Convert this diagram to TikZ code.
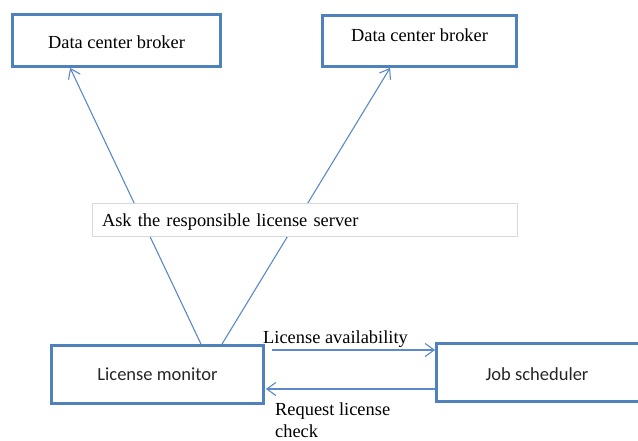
\documentclass[tikz,border=0pt]{standalone}
\usepackage{fontspec}
\setmainfont{Liberation Serif}
\newfontfamily\textserif{Liberation Serif}
\newfontfamily\boxsans{Carlito}
\usetikzlibrary{arrows.meta}
\definecolor{boxblue}{HTML}{4F81BD}
\definecolor{linkblue}{HTML}{5B8AC6}
\definecolor{framegrey}{HTML}{D9D9D9}
\tikzset{
  box/.style={draw=boxblue, line width=2.8pt, fill=white, inner sep=0pt},
  labelbox/.style={draw=framegrey, line width=0.8pt, fill=white, inner xsep=10pt, inner ysep=0pt},
  serif/.style={font=\textserif\fontsize{18.4}{22}\selectfont},
  sans/.style={font=\boxsans\fontsize{18.5}{22}\selectfont, text=black!85},
  link/.style={draw=linkblue, line width=1.1pt, -{Straight Barb[length=9pt,width=13pt,line width=1.1pt]}},
}
\begin{document}
\begin{tikzpicture}[x=1pt, y=-1pt]
  \clip (0,0) rectangle (638,441);
  \fill[white] (0,0) rectangle (638,441);

  % brokers
  \node[box, serif, minimum width=208pt, minimum height=52pt, text height=16.5pt, text depth=0pt] (dcbL) at (116.5,40.5) {Data center broker};
  \node[box, minimum width=194pt, minimum height=51pt] (dcbR) at (419.5,41) {};
  \node[serif, inner sep=0pt] (dcbRtext) at (419.5,35) {Data center broker};

  % monitor and scheduler
  \node[box, sans, minimum width=212pt, minimum height=58pt] (lm) at (157.5,374.5) {License monitor};
  \node[box, minimum width=207pt, minimum height=58pt] (js) at (540,372.5) {};
  \node[sans, inner sep=0pt] (jstext) at (537,374) {Job scheduler};

  % monitor asks both brokers
  \draw[link] ([xshift=43.5pt]lm.north) -- ([xshift=59pt]dcbL.south west);
  \draw[link] ([xshift=64.5pt]lm.north) -- ([xshift=69pt]dcbR.south west);

  % caption box laid over the two lines
  \node[labelbox, serif, minimum width=425pt, minimum height=33pt, text width=405pt, align=left, text height=17pt, text depth=4pt] (ask) at (304.5,219.5) {Ask the responsible license server};

  % exchange between monitor and scheduler
  \draw[link] ([xshift=7pt, yshift=24.5pt]lm.east) -- ([yshift=22.5pt]js.west);
  \draw[link] ([yshift=-16.5pt]js.west) -- ([xshift=1pt, yshift=-14.5pt]lm.east);

  \node[serif, anchor=west, inner sep=0pt] (avail) at (263,339.5) {License availability};
  \node[serif, anchor=north west, inner sep=0pt, align=left] (req) at (275,403) {Request license\\check};
\end{tikzpicture}
\end{document}
